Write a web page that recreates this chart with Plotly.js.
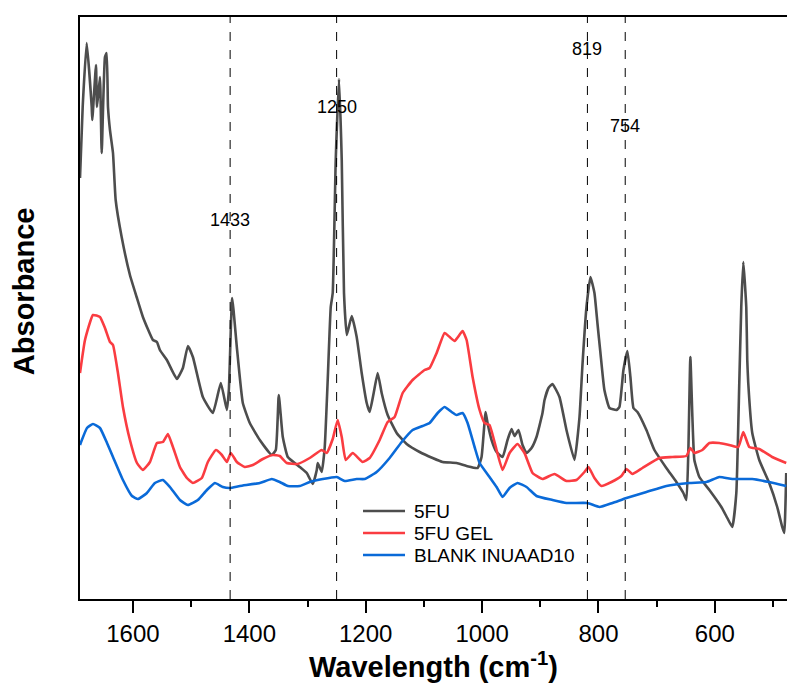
<!DOCTYPE html>
<html>
<head>
<meta charset="utf-8">
<script src="https://cdn.plot.ly/plotly-3.0.1.min.js"></script>
<style>html,body{margin:0;padding:0;background:#fff;}#chart{width:787px;height:691px;}</style>
</head>
<body>
<div id="chart"></div>
<script>
// Wavenumbers (cm-1) and absorbance (a.u.)
const fuX = [1691,1686.4,1679.5,1670.9,1669.9,1663.5,1661.8,1656.7,1653.7,1648.1,1645.2,1642.9,1639.5,1634.3,1629.7,1619.4,1605.2,1593.7,1582.9,1565.7,1558.8,1553.7,1541.7,1524.5,1514.2,1505.6,1497.0,1479.9,1462.7,1449.0,1438.6,1435.2,1429.5,1421.5,1411.2,1399.2,1382.0,1361.4,1354.5,1349.4,1342.5,1333.9,1313.3,1301.3,1291.0,1284.1,1282.4,1275.6,1270.4,1265.3,1260.1,1256.7,1251.5,1245.9,1241.2,1237.3,1232.6,1224.0,1215.5,1206.9,1198.3,1193.2,1186.3,1179.4,1172.6,1162.3,1146.8,1129.6,1107.3,1085.0,1067.8,1043.8,1026.6,1007.7,1000.9,994.0,990.6,983.7,975.1,964.8,956.3,949.4,944.2,937.4,930.5,923.6,915.0,906.5,896.2,892.7,885.9,879.0,867.0,855.0,841.2,832.6,827.5,820.6,813.8,806.9,801.8,796.6,789.8,781.1,769.1,764.0,757.1,750.2,745.1,739.9,733.0,717.6,703.9,683.3,666.1,654.1,648.9,645.5,642.1,638.6,635.2,626.6,609.4,588.8,578.6,570.0,563.1,558.0,554.6,551.1,546.0,544.3,542.6,535.7,523.7,506.5,492.8,484.2,480.8,477.3];
const fuY = [4.21,4.92,5.56,4.92,4.79,5.34,4.92,5.22,4.46,5.42,5.46,4.92,4.69,4.46,3.99,3.62,3.24,3.02,2.82,2.59,2.57,2.49,2.39,2.20,2.31,2.53,2.42,2.02,1.86,2.16,1.89,2.09,3.01,2.52,1.96,1.76,1.59,1.44,1.49,2.04,1.62,1.42,1.32,1.26,1.15,1.29,1.36,1.27,1.52,2.19,2.92,3.06,4.39,5.20,4.39,3.06,2.64,2.83,2.62,2.26,1.96,1.87,2.06,2.26,2.06,1.84,1.66,1.55,1.47,1.41,1.37,1.36,1.33,1.31,1.42,1.87,1.76,1.59,1.47,1.42,1.59,1.70,1.63,1.69,1.54,1.46,1.51,1.62,1.86,1.99,2.11,2.15,2.02,1.69,1.39,1.82,2.34,2.92,3.22,3.06,2.76,2.46,2.09,1.91,1.89,1.92,2.29,2.48,2.22,1.91,1.87,1.69,1.49,1.31,1.17,1.06,0.99,1.49,2.42,1.82,1.39,1.22,1.09,0.92,0.81,0.72,1.06,2.16,2.92,3.37,2.92,2.39,2.16,1.66,1.39,1.16,0.92,0.72,0.66,1.26];

const gelX = [1691,1682.4,1668.7,1656.7,1648.1,1639.5,1634.3,1625.8,1617.2,1605.2,1593.1,1582.9,1570.8,1558.8,1548.5,1539.9,1531.3,1519.3,1507.3,1497.0,1481.6,1471.3,1457.5,1447.2,1438.6,1431.8,1421.5,1407.8,1394.0,1376.8,1359.7,1347.7,1335.6,1316.8,1296.2,1275.6,1267.0,1256.7,1248.1,1241.2,1234.4,1222.3,1205.2,1193.2,1176.0,1162.3,1150.3,1136.5,1119.4,1098.8,1090.2,1078.1,1064.4,1055.8,1047.2,1033.5,1026.6,1016.3,1004.3,995.7,987.2,975.1,964.8,952.8,939.1,927.1,913.3,896.2,875.6,855.0,837.8,824.1,817.2,806.9,794.9,777.7,760.6,751.9,741.7,724.5,695.3,673.0,649.0,642.1,635.2,621.5,609.4,592.3,575.1,559.7,551.1,540.8,523.7,501.4,477.3];
const gelY = [2.26,2.59,2.84,2.82,2.71,2.57,2.54,2.26,1.92,1.59,1.36,1.29,1.37,1.56,1.57,1.65,1.52,1.32,1.21,1.16,1.21,1.37,1.49,1.44,1.37,1.46,1.37,1.32,1.34,1.40,1.44,1.43,1.36,1.35,1.41,1.49,1.46,1.60,1.79,1.62,1.39,1.46,1.37,1.41,1.59,1.77,1.82,2.06,2.19,2.29,2.31,2.46,2.66,2.62,2.58,2.68,2.59,2.22,1.89,1.76,1.74,1.49,1.29,1.46,1.55,1.46,1.26,1.20,1.25,1.18,1.19,1.27,1.32,1.21,1.13,1.17,1.23,1.30,1.25,1.31,1.41,1.42,1.43,1.51,1.46,1.49,1.56,1.56,1.54,1.52,1.67,1.52,1.50,1.42,1.36];

const blankX = [1691,1679.0,1668.7,1656.7,1644.6,1634.3,1617.2,1601.7,1591.4,1576.0,1562.3,1548.5,1536.5,1519.3,1505.6,1488.4,1473.0,1459.2,1445.5,1433.5,1416.3,1382.0,1361.4,1347.7,1333.9,1313.3,1296.2,1273.8,1249.8,1236.1,1215.5,1201.8,1181.2,1158.9,1138.2,1119.4,1102.2,1090.2,1076.4,1064.4,1052.4,1043.8,1033.5,1024.9,1012.9,1004.3,987.2,975.1,964.8,952.8,939.1,923.6,906.5,879.0,855.0,819.0,798.3,776.0,751.9,717.6,683.3,643.8,614.6,592.3,570.0,535.7,506.5,477.3];
const blankY = [1.54,1.71,1.75,1.71,1.56,1.42,1.19,1.03,1.00,1.06,1.16,1.19,1.12,0.99,0.94,0.99,1.09,1.16,1.12,1.11,1.13,1.16,1.20,1.17,1.13,1.13,1.17,1.20,1.22,1.18,1.20,1.20,1.27,1.41,1.57,1.69,1.73,1.76,1.86,1.92,1.87,1.84,1.86,1.76,1.52,1.36,1.22,1.12,1.02,1.11,1.16,1.12,1.03,0.99,0.96,0.96,0.92,0.96,1.01,1.07,1.13,1.16,1.17,1.22,1.20,1.20,1.17,1.13];

const seriesNames = ['5FU', '5FU GEL', 'BLANK INUAAD10'];
const peakPositions = [1433, 1250, 819, 754];
const peakLabels = ['1433', '1250', '819', '754'];
const peakLabelHeights = [3.79, 4.92, 5.50, 4.73];
const xTickVals = [1600, 1400, 1200, 1000, 800, 600];

const FONT = 'Arial, "Liberation Sans", sans-serif';
const colors = ['#4d4d4d', '#fa3c41', '#0a6ad8'];

const traces = [
  {x: fuX, y: fuY, name: seriesNames[0]},
  {x: gelX, y: gelY, name: seriesNames[1]},
  {x: blankX, y: blankY, name: seriesNames[2]}
].map((t, i) => Object.assign(t, {
  type: 'scatter', mode: 'lines', showlegend: false,
  line: {color: colors[i], width: 2.6, shape: 'spline', smoothing: 0.4},
  hoverinfo: 'skip'
}));

const shapes = peakPositions.map(p => ({
  type: 'line', xref: 'x', yref: 'paper', x0: p, x1: p, y0: 0, y1: 1,
  line: {color: '#000', width: 1, dash: 'dash'}, layer: 'above'
}));

const annotations = peakPositions.map((p, i) => ({
  x: p, y: peakLabelHeights[i], xref: 'x', yref: 'y',
  text: peakLabels[i], showarrow: false,
  font: {family: FONT, size: 18, color: '#000'}
}));

// Hand-drawn legend (row spacing of the reference is tighter than Plotly's)
const legendTop = 0.1512, legendStep = 0.0378;
seriesNames.forEach((name, i) => {
  const yy = legendTop - i * legendStep;
  shapes.push({type: 'line', xref: 'paper', yref: 'paper', x0: 0.4003, x1: 0.4597, y0: yy, y1: yy,
    line: {color: colors[i], width: 2.6}});
  annotations.push({xref: 'paper', yref: 'paper', x: 0.4696, y: yy, xanchor: 'left', yanchor: 'middle',
    text: name, showarrow: false, font: {family: FONT, size: 19, color: '#000'}});
});

// y-axis title placed like the reference (slightly above plot centre)
annotations.push({xref: 'paper', yref: 'paper', x: -0.0792, y: 0.529, xanchor: 'center', yanchor: 'middle',
  text: 'Absorbance', textangle: -90, showarrow: false,
  font: {family: FONT, size: 29, color: '#000', weight: 'bold'}});

const layout = {
  width: 787, height: 691,
  margin: {l: 80, r: 0, t: 17, b: 92},
  paper_bgcolor: '#fff', plot_bgcolor: '#fff',
  font: {family: FONT, color: '#000'},
  showlegend: false,
  xaxis: {
    range: [1691, 476],
    tickvals: xTickVals,
    ticks: 'outside', ticklen: 12, tickwidth: 2, tickcolor: '#000',
    minor: {dtick: 100, tick0: 0, ticks: 'outside', ticklen: 6, tickwidth: 2, tickcolor: '#000', showgrid: false},
    showline: true, linewidth: 2, linecolor: '#000', mirror: true,
    showgrid: false, zeroline: false,
    tickfont: {family: FONT, size: 24, color: '#000'},
    title: {text: 'Wavelength (cm<sup>-1</sup>)', font: {family: FONT, size: 29, color: '#000', weight: 'bold'}, standoff: 8}
  },
  yaxis: {
    range: [0, 5.82],
    showticklabels: false, ticks: '',
    showline: true, linewidth: 2, linecolor: '#000', mirror: false,
    showgrid: false, zeroline: false
  },
  shapes: shapes,
  annotations: annotations
};

Plotly.newPlot('chart', traces, layout, {displayModeBar: false, staticPlot: true});
</script>
</body>
</html>
